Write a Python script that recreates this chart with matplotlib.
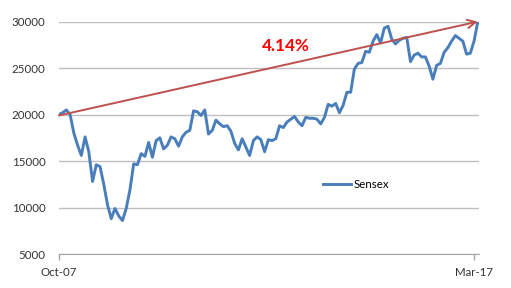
import numpy as np
import matplotlib
matplotlib.use('Agg')
import matplotlib.pyplot as plt
matplotlib.rcParams.update({'font.size': 8.3, 'font.family': 'Lato'})

###----------------------------------------------------------------------------
### monthly Sensex close, Oct-07 .. Mar-17
sensex = [20000, 20200, 20500, 20000, 18000, 16700, 15600, 17600, 16000, 12800,
          14600, 14400, 12500, 10300, 8800, 9900, 9100, 8600, 9900, 11900,
          14700, 14600, 15800, 15500, 17000, 15400, 17200, 17500, 16300, 16700,
          17600, 17400, 16600, 17600, 18100, 18300, 20400, 20300, 19900, 20500,
          17900, 18300, 19400, 19000, 18700, 18800, 18200, 16900, 16200, 17400,
          16500, 15600, 17200, 17600, 17300, 16000, 17300, 17200, 17400, 18800,
          18600, 19200, 19500, 19800, 19200, 18800, 19700, 19600, 19600, 19500,
          19000, 19700, 21100, 20900, 21200, 20200, 21000, 22400, 22400, 24900,
          25500, 25600, 26800, 26700, 27900, 28600, 27700, 29300, 29500, 28100,
          27600, 28000, 28200, 28300, 25700, 26400, 26600, 26200, 26200, 25200,
          23800, 25300, 25500, 26700, 27200, 27900, 28500, 28200, 27900, 26500,
          26600, 27900, 30000]
x_labels = ['Oct-07', 'Mar-17']
y_ticks = [5000, 10000, 15000, 20000, 25000, 30000]
arrow_start = 19900
arrow_end = 30000
growth_label = '4.14%'

###----------------------------------------------------------------------------
fig = plt.figure(figsize=(5.11, 2.88), dpi=100)
ax = fig.add_axes([0.1145, 0.118, 0.822, 0.807])

months = np.arange(len(sensex))
ax.plot(months, sensex, '-', color='#4A7EBB', linewidth=2.1, label='Sensex',
        solid_joinstyle='round', zorder=3)

### red trend arrow from first to last month
ax.annotate('', xy=(months[-1], arrow_end), xytext=(months[0], arrow_start),
            arrowprops=dict(arrowstyle='->', color='#C0504D', lw=1.4,
                            mutation_scale=15, shrinkA=0, shrinkB=0),
            zorder=4)
ax.text(months[-1] * 0.5425, 27350, growth_label, color='#FF0000',
        fontsize=12.3, fontweight='bold', ha='center', va='center')

### axes styling
ax.set_ylim(5000, 30000)
ax.set_xlim(-0.1, months[-1] + 0.2)
ax.set_yticks(y_ticks)
ax.set_xticks([months[0], months[-1] - 1])
ax.set_xticklabels(x_labels)
ax.yaxis.grid(True, color='#BFBFBF', linewidth=1.0)
ax.set_axisbelow(True)
for s in ['top', 'right', 'left']:
    ax.spines[s].set_visible(False)
ax.spines['bottom'].set_color('#A6A6A6')
ax.tick_params(axis='y', length=0, pad=9.5, colors='#333333')
ax.tick_params(axis='x', length=4, width=1, color='#A6A6A6', pad=5,
               labelcolor='#333333')

ax.legend(loc='center left', bbox_to_anchor=(0.63, 0.30), frameon=False,
          handlelength=2.4, handletextpad=0.2, borderpad=0, borderaxespad=0)

fig.savefig('out.png', dpi=100)
